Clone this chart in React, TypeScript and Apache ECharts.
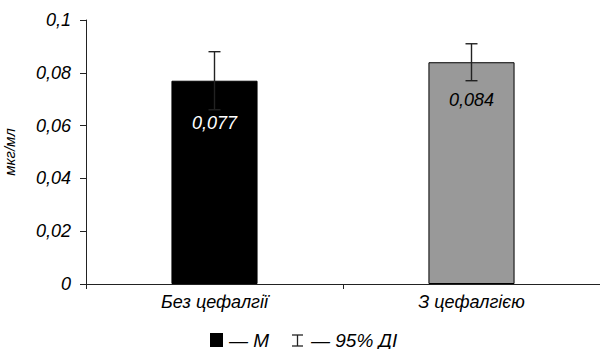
import React, { useEffect, useRef } from "react";
import * as echarts from "echarts";

const categories = ["Без цефалгії", "З цефалгією"];
const means = [0.077, 0.084];
const ciLow = [0.066, 0.077];
const ciHigh = [0.088, 0.091];
const barColors = ["#000000", "#999999"];
const valueLabelColors = ["#ffffff", "#000000"];
const valueLabelOffsets = [42, 38];
const yTicks = [0, 0.02, 0.04, 0.06, 0.08, 0.1];
const legendMean = "— М";
const legendCI = "— 95% ДІ";

const FONT = "'Liberation Sans', Arial, sans-serif";

const fmt = (v: number) => String(Number(v.toFixed(3))).replace(".", ",");

export default function App() {
  const ref = useRef<HTMLDivElement>(null);
  useEffect(() => {
    if (!ref.current) return;
    const chart = echarts.init(ref.current, undefined, { renderer: "svg" });
    const txt = (size: number) => ({
      fontFamily: FONT,
      fontStyle: "italic",
      fontSize: size,
      color: "#000",
    });
    const legendText = (x: number, text: string) => ({
      type: "text",
      x,
      y: 340,
      style: {
        text,
        fontFamily: FONT,
        fontStyle: "italic",
        fontSize: 19,
        fill: "#000",
        verticalAlign: "middle",
      },
    });
    const ink = { stroke: "#222", lineWidth: 1.3 };
    chart.setOption({
      animation: false,
      backgroundColor: "#ffffff",
      grid: { left: 86, right: 0, top: 20, bottom: 65, containLabel: false, outerBoundsMode: "none" },
      xAxis: {
        type: "category",
        data: categories,
        axisLine: { lineStyle: { color: "#222", width: 1 } },
        axisTick: { show: true, length: 5, lineStyle: { color: "#222" } },
        axisLabel: { ...txt(18), margin: 9 },
      },
      yAxis: {
        type: "value",
        min: 0,
        max: yTicks[yTicks.length - 1],
        interval: 0.02,
        name: "мкг/мл",
        nameLocation: "middle",
        nameRotate: 90,
        nameGap: 69,
        nameTextStyle: txt(15),
        axisLine: { show: true, lineStyle: { color: "#222", width: 1 } },
        axisTick: { show: true, length: 6, lineStyle: { color: "#222" } },
        splitLine: { show: false },
        axisLabel: { ...txt(18), margin: 15, formatter: (v: number) => fmt(v) },
      },
      series: [
        {
          type: "bar",
          barWidth: "33.5%",
          data: means.map((v, i) => ({
            value: v,
            itemStyle: { color: barColors[i], borderColor: "#000", borderWidth: 1 },
            label: {
              show: true,
              position: ["50%", valueLabelOffsets[i]],
              align: "center",
              verticalAlign: "middle",
              ...txt(18),
              color: valueLabelColors[i],
              formatter: () => fmt(v),
            },
          })),
        },
        {
          type: "custom",
          z: 10,
          data: categories.map((_, i) => [i, ciLow[i], ciHigh[i]]),
          renderItem: (params: any, api: any) => {
            const x = api.value(0);
            const lo = api.coord([x, api.value(1)]);
            const hi = api.coord([x, api.value(2)]);
            const half = 6;
            const style = { stroke: "#222", lineWidth: 1.4 };
            return {
              type: "group",
              children: [
                { type: "line", shape: { x1: lo[0], y1: lo[1], x2: hi[0], y2: hi[1] }, style },
                { type: "line", shape: { x1: hi[0] - half, y1: hi[1], x2: hi[0] + half, y2: hi[1] }, style },
                { type: "line", shape: { x1: lo[0] - half, y1: lo[1], x2: lo[0] + half, y2: lo[1] }, style },
              ],
            };
          },
        },
      ],
      graphic: [
        { type: "rect", shape: { x: 210, y: 333, width: 13, height: 14 }, style: { fill: "#000" } },
        legendText(229, legendMean),
        { type: "line", shape: { x1: 297.5, y1: 335, x2: 297.5, y2: 346 }, style: ink },
        { type: "line", shape: { x1: 292, y1: 335, x2: 303, y2: 335 }, style: ink },
        { type: "line", shape: { x1: 292, y1: 346, x2: 303, y2: 346 }, style: ink },
        legendText(311, legendCI),
      ],
    });
    return () => chart.dispose();
  }, []);
  return (
    <div
      ref={ref}
      style={{ position: "absolute", left: 0, top: 0, width: 600, height: 349 }}
    />
  );
}
